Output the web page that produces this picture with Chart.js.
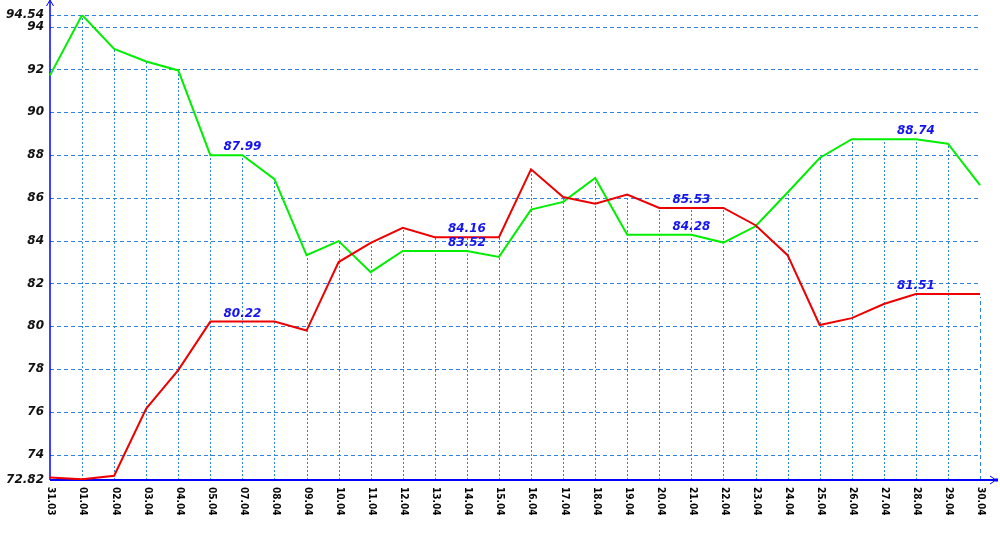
<!DOCTYPE html>
<html><head><meta charset="utf-8">
<script src="https://cdn.jsdelivr.net/npm/chart.js@4.4.0/dist/chart.umd.min.js"></script>
<style>html,body{margin:0;padding:0;background:#fff;}#wrap{width:1000px;height:550px;}</style>
</head><body><div id="wrap"><canvas id="c" width="1000" height="550"></canvas></div>
<script>
const categories = ['31.03','01.04','02.04','03.04','04.04','05.04','07.04','08.04','09.04','10.04','11.04','12.04','13.04','14.04','15.04','16.04','17.04','18.04','19.04','20.04','21.04','22.04','23.04','24.04','25.04','26.04','27.04','28.04','29.04','30.04'];
const greenValues = [91.72, 94.54, 92.96, 92.37, 91.95, 87.99, 87.99, 86.87, 83.32, 83.98, 82.53, 83.52, 83.52, 83.52, 83.24, 85.45, 85.81, 86.93, 84.28, 84.28, 84.28, 83.91, 84.67, 86.25, 87.86, 88.74, 88.74, 88.74, 88.53, 86.59];
const redValues = [72.94, 72.85, 73.02, 76.16, 77.95, 80.22, 80.22, 80.22, 79.8, 83.0, 83.9, 84.6, 84.16, 84.16, 84.16, 87.33, 86.04, 85.73, 86.15, 85.53, 85.53, 85.53, 84.72, 83.32, 80.06, 80.38, 81.04, 81.51, 81.51, 81.51];
const yTickValues = [72.82, 74, 76, 78, 80, 82, 84, 86, 88, 90, 92, 94, 94.54];
const labelIndices = [6, 13, 20, 27];

const yMin = yTickValues[0], yMax = yTickValues[yTickValues.length - 1];
const GRID = '#2f82e0';
const AXIS = '#0000ff';

const decor = {
  id: 'decor',
  beforeDatasetsDraw(chart) {
    const { ctx, chartArea: a, scales: { x, y } } = chart;
    ctx.save();
    ctx.lineWidth = 1;
    ctx.strokeStyle = GRID;
    ctx.setLineDash([4, 3]);
    yTickValues.forEach(v => {
      if (v === yMin) return;
      const py = Math.round(y.getPixelForValue(v)) + 0.5;
      ctx.beginPath(); ctx.moveTo(a.left, py); ctx.lineTo(a.right, py); ctx.stroke();
    });
    for (let i = 1; i < categories.length; i++) {
      const last = i === categories.length - 1;
      const px = Math.round(x.getPixelForValue(i)) + 0.5;
      const top = last ? y.getPixelForValue(redValues[i]) + 3 : y.getPixelForValue(Math.max(greenValues[i], redValues[i]));
      ctx.setLineDash(last ? [4, 3] : [2, 2]);
      ctx.beginPath(); ctx.moveTo(px, a.bottom); ctx.lineTo(px, top); ctx.stroke();
    }
    ctx.setLineDash([]);
    ctx.strokeStyle = AXIS;
    ctx.lineWidth = 1.5;
    ctx.beginPath(); ctx.moveTo(a.left, 1); ctx.lineTo(a.left, a.bottom); ctx.stroke();
    ctx.lineWidth = 2;
    ctx.beginPath(); ctx.moveTo(a.left, a.bottom); ctx.lineTo(997, a.bottom); ctx.stroke();
    ctx.lineWidth = 1;
    ctx.beginPath(); ctx.moveTo(a.left - 3.5, 6); ctx.lineTo(a.left, 0); ctx.lineTo(a.left + 3.5, 6); ctx.stroke();
    ctx.beginPath(); ctx.moveTo(990, a.bottom - 4); ctx.lineTo(996, a.bottom); ctx.lineTo(990, a.bottom + 4); ctx.stroke();
    ctx.fillStyle = AXIS;
    ctx.fillRect(995, a.bottom - 1.5, 3, 3);
    ctx.restore();
  },
  afterDatasetsDraw(chart) {
    const { ctx, scales: { x, y } } = chart;
    ctx.save();
    ctx.font = 'bold italic 12px "DejaVu Sans"';
    ctx.fillStyle = '#1414f0';
    ctx.textAlign = 'center';
    ctx.textBaseline = 'alphabetic';
    labelIndices.forEach(i => {
      const px = x.getPixelForValue(i);
      [greenValues[i], redValues[i]].forEach(v => {
        ctx.fillText(v.toFixed(2), px, y.getPixelForValue(v) - 5);
      });
    });
    ctx.restore();
  },
  afterDraw(chart) {
    const { ctx, chartArea: a, scales: { x } } = chart;
    ctx.save();
    ctx.font = 'bold 10px "DejaVu Sans Condensed", "DejaVu Sans"';
    ctx.fillStyle = '#000';
    ctx.textAlign = 'left';
    ctx.textBaseline = 'middle';
    categories.forEach((c, i) => {
      const px = x.getPixelForValue(i) + 1;
      ctx.save();
      ctx.translate(px, a.bottom + 7);
      ctx.rotate(Math.PI / 2);
      ctx.fillText(c, 0, 0);
      ctx.restore();
    });
    ctx.restore();
  }
};

new Chart(document.getElementById('c'), {
  type: 'line',
  data: {
    labels: categories,
    datasets: [
      { data: redValues, borderColor: '#ee0000', borderWidth: 2, pointRadius: 0, tension: 0, fill: false },
      { data: greenValues, borderColor: '#00ee00', borderWidth: 2, pointRadius: 0, tension: 0, fill: false }
    ]
  },
  options: {
    responsive: false,
    animation: false,
    devicePixelRatio: 1,
    layout: { padding: { top: 15, right: 20, left: 0, bottom: 0 } },
    plugins: { legend: { display: false }, tooltip: { enabled: false } },
    scales: {
      x: {
        type: 'category',
        offset: false,
        grid: { display: false, drawTicks: false },
        border: { display: false },
        ticks: { display: false },
        afterFit(s) { s.height = 70; }
      },
      y: {
        type: 'linear',
        min: yMin,
        max: yMax,
        grid: { display: false, drawTicks: false, tickLength: 0 },
        border: { display: false },
        afterBuildTicks(s) { s.ticks = yTickValues.map(v => ({ value: v })); },
        afterFit(s) { s.width = 50; },
        ticks: {
          autoSkip: false,
          padding: 6,
          color: '#111',
          font: { family: 'DejaVu Sans', size: 12, weight: 'bold', style: 'italic' },
          callback(v) { return Number.isInteger(v) ? String(v) : v.toFixed(2); }
        }
      }
    }
  },
  plugins: [decor]
});
</script>
</body></html>
